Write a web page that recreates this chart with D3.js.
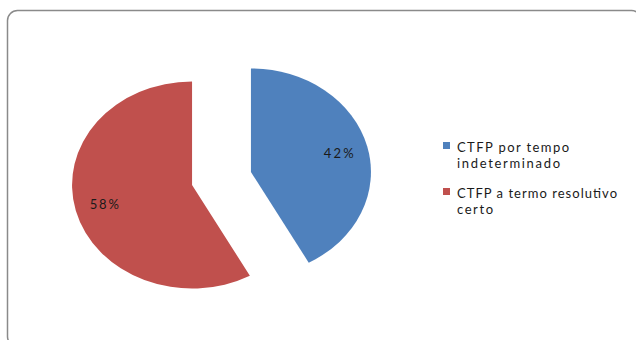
<!DOCTYPE html>
<html>
<head>
<meta charset="utf-8">
<script src="https://cdn.jsdelivr.net/npm/d3@7"></script>
<style>
  html, body { margin: 0; padding: 0; background: #fff; }
  svg { display: block; }
</style>
</head>
<body>
<svg id="chart" width="636" height="340"></svg>
<script>
// ---- data ----
const categories = ["CTFP por tempo indeterminado", "CTFP a termo resolutivo certo"];
const values = [42, 58];
const sliceColors = ["#4F81BD", "#C0504D"];
const legendLines = [["CTFP por tempo", "indeterminado"], ["CTFP a termo resolutivo", "certo"]];

// ---- layout ----
const W = 636, H = 340;
const cx = 221.5, cy = 178.5;
const R = 120, ky = 0.8625;     // elliptical pie
const explode = 30.4;
const labelFrac = 0.755;
const fontFam = "Lato, 'Open Sans', 'Liberation Sans', sans-serif";

const svg = d3.select("#chart");

// frame
svg.append("rect")
  .attr("x", 7.5).attr("y", 10.5)
  .attr("width", 634).attr("height", 336)
  .attr("rx", 10).attr("ry", 10)
  .attr("fill", "none")
  .attr("stroke", "#8a8a8a")
  .attr("stroke-width", 1.5);

const pie = d3.pie().sort(null).value(d => d).startAngle(0).endAngle(2 * Math.PI);
const arcs = pie(values);
const totalV = d3.sum(values);
const arc = d3.arc().innerRadius(0).outerRadius(R);

const g = svg.append("g")
  .attr("transform", `translate(${cx},${cy}) scale(1,${ky})`);

g.selectAll("path.slice")
  .data(arcs)
  .join("path")
  .attr("class", "slice")
  .attr("d", arc)
  .attr("fill", (d, i) => sliceColors[i])
  .attr("transform", d => {
    const m = (d.startAngle + d.endAngle) / 2;
    return `translate(${explode * Math.sin(m)},${-explode * Math.cos(m)})`;
  });

// percentage labels
const pctWidths = [30, 29];
svg.selectAll("text.pct")
  .data(arcs)
  .join("text")
  .attr("class", "pct")
  .attr("x", d => {
    const m = (d.startAngle + d.endAngle) / 2;
    return cx + (explode + labelFrac * R) * Math.sin(m);
  })
  .attr("y", d => {
    const m = (d.startAngle + d.endAngle) / 2;
    return cy - (explode + labelFrac * R) * Math.cos(m) * ky;
  })
  .attr("text-anchor", "middle")
  .attr("dominant-baseline", "central")
  .attr("font-family", fontFam)
  .attr("font-size", 13)
  .attr("fill", "#1a1a1a")
  .attr("textLength", (d, i) => pctWidths[i])
  .attr("lengthAdjust", "spacing")
  .text(d => Math.round(d.value / totalV * 100) + "%");

// legend
const legX = 443, legY0 = 142, legStep = 46, lineH = 16;
const lineWidths = [[112, 103], [160, 36]];
const leg = svg.append("g");
categories.forEach((c, i) => {
  const y = legY0 + i * legStep;
  leg.append("rect")
    .attr("x", legX).attr("y", y)
    .attr("width", 7).attr("height", 7)
    .attr("fill", sliceColors[i]);
  legendLines[i].forEach((ln, j) => {
    leg.append("text")
      .attr("x", 457)
      .attr("y", y + 10 + j * lineH)
      .attr("font-family", fontFam)
      .attr("font-size", 13)
      .attr("fill", "#1a1a1a")
      .attr("textLength", lineWidths[i][j])
      .attr("lengthAdjust", "spacing")
      .text(ln);
  });
});
</script>
</body>
</html>
